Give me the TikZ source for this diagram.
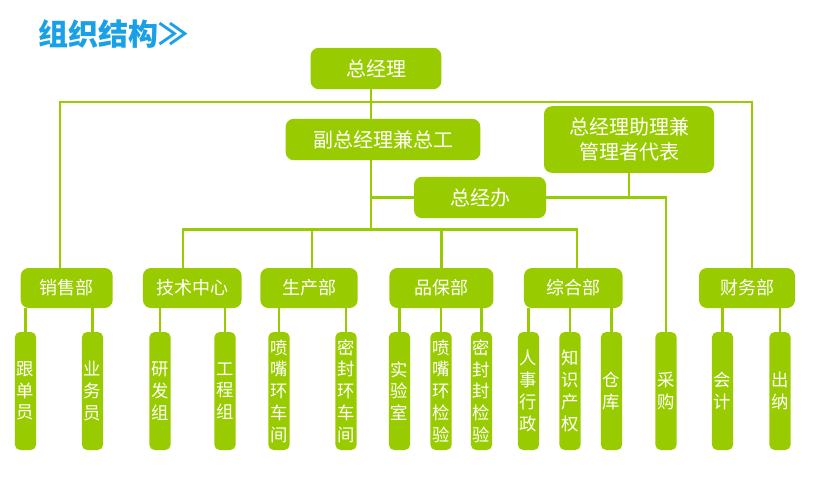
\documentclass[tikz,border=0pt]{standalone}
\usepackage{fontspec}
\setmainfont{Noto Sans CJK SC}
\usetikzlibrary{positioning}
\definecolor{lvse}{RGB}{153,204,0}
\definecolor{lanse}{RGB}{26,160,230}
\tikzstyle{TopBox}=[rectangle, rounded corners=6pt, fill=lvse, text=white, font=\fontsize{15}{19}\selectfont, minimum height=31pt, inner sep=0pt]
\tikzstyle{DeptBox}=[rectangle, rounded corners=6pt, fill=lvse, text=white, font=\fontsize{13.5}{16}\selectfont, minimum width=73pt, minimum height=30pt, inner sep=0pt]
\tikzstyle{LeafBox}=[rectangle, rounded corners=4pt, fill=lvse, text=white, font=\fontsize{13}{16.3}\selectfont, align=center, minimum width=16pt, minimum height=88.5pt, inner sep=0pt]
\tikzstyle{Linea}=[draw=lvse, line width=2.2pt]

\begin{document}
\begin{tikzpicture}[x=0.75pt, y=-0.75pt]
	\useasboundingbox (0,0) rectangle (814,486);

	%Titulo
	\node[anchor=west, text=lanse, font=\fontsize{22.5}{24}\selectfont\bfseries, inner sep=0pt] (biaoti) at (38,34) {组织结构≫};

	%Nodos superiores
	\node[TopBox, minimum width=98pt]	(zjl)	at (376,68.5)	{总经理};
	\node[TopBox, minimum width=146pt]	(fzjl)	at (383,139.5)	{副总经理兼总工};
	\node[TopBox, minimum width=127.5pt, minimum height=50pt, align=center]	(zlgl)	at (629,139.5)	{总经理助理兼\\管理者代表};
	\node[TopBox, minimum width=99pt]	(zjb)	at (480,197.5)	{总经办};

	%Departamentos
	\node[DeptBox, minimum width=69pt]	(xsb)	at (66.7,288)	{销售部};
	\node[DeptBox, minimum width=74pt]	(jszx)	at (192.3,288)	{技术中心};
	\node[DeptBox]				(scb)	at (309,288)	{生产部};
	\node[DeptBox, minimum width=78pt]	(pbb)	at (441.4,288)	{品保部};
	\node[DeptBox, minimum width=74pt]	(zhb)	at (573.3,288)	{综合部};
	\node[DeptBox, minimum width=72pt]	(cwb)	at (747,288)	{财务部};

	%Hojas
	\node[LeafBox]	(gdy)	at (25.5,391)	{跟\\单\\员};
	\node[LeafBox]	(ywy)	at (92.5,391)	{业\\务\\员};
	\node[LeafBox]	(yfz)	at (160,391)	{研\\发\\组};
	\node[LeafBox]	(gcz)	at (225,391)	{工\\程\\组};
	\node[LeafBox]	(pzcj)	at (279,391)	{喷\\嘴\\环\\车\\间};
	\node[LeafBox]	(mfcj)	at (346,391)	{密\\封\\环\\车\\间};
	\node[LeafBox]	(sys)	at (399.5,391)	{实\\验\\室};
	\node[LeafBox]	(pzjy)	at (441,391)	{喷\\嘴\\环\\检\\验};
	\node[LeafBox]	(mfjy)	at (481.5,391)	{密\\封\\封\\检\\验};
	\node[LeafBox]	(rsxz)	at (528.5,391)	{人\\事\\行\\政};
	\node[LeafBox]	(zscq)	at (570,391)	{知\\识\\产\\权};
	\node[LeafBox]	(ck)	at (611.5,391)	{仓\\库};
	\node[LeafBox]	(cg)	at (666,391)	{采\\购};
	\node[LeafBox]	(kj)	at (722.5,391)	{会\\计};
	\node[LeafBox]	(cn)	at (780,391)	{出\\纳};

	%Puntos de las lineas
	\coordinate (zs) at (60,102);
	\coordinate (ys) at (752,102);
	\coordinate (zg) at (371,229.5);
	\coordinate (b1) at (183,229.5);
	\coordinate (b2) at (312,229.5);
	\coordinate (b3) at (441.7,229.5);
	\coordinate (b4) at (577,229.5);

	%Lineas
	\draw[Linea] (zs |- xsb.north) -- (zs) -- (ys) -- (ys |- cwb.north);
	\draw[Linea] (zjl.south -| zg) -- (fzjl.north -| zg);
	\draw[Linea] (fzjl.south -| zg) -- (zg);
	\draw[Linea] (b1 |- jszx.north) -- (b1) -- (b4) -- (b4 |- zhb.north);
	\draw[Linea] (b2) -- (b2 |- scb.north);
	\draw[Linea] (b3) -- (b3 |- pbb.north);
	\draw[Linea] (zjb.west -| zg) -- (zjb.west);
	\draw[Linea] (zjb.east) -| (cg.north);
	\draw[Linea] (zlgl.south) -- (zlgl.south |- zjb.east);

	\draw[Linea] (gdy.north) -- (gdy.north |- xsb.south);
	\draw[Linea] (ywy.north) -- (ywy.north |- xsb.south);
	\draw[Linea] (yfz.north) -- (yfz.north |- jszx.south);
	\draw[Linea] (gcz.north) -- (gcz.north |- jszx.south);
	\draw[Linea] (pzcj.north) -- (pzcj.north |- scb.south);
	\draw[Linea] (mfcj.north) -- (mfcj.north |- scb.south);
	\draw[Linea] (sys.north) -- (sys.north |- pbb.south);
	\draw[Linea] (pzjy.north) -- (pzjy.north |- pbb.south);
	\draw[Linea] (mfjy.north) -- (mfjy.north |- pbb.south);
	\draw[Linea] (rsxz.north) -- (rsxz.north |- zhb.south);
	\draw[Linea] (zscq.north) -- (zscq.north |- zhb.south);
	\draw[Linea] (ck.north) -- (ck.north |- zhb.south);
	\draw[Linea] (kj.north) -- (kj.north |- cwb.south);
	\draw[Linea] (cn.north) -- (cn.north |- cwb.south);

\end{tikzpicture}
\end{document}
